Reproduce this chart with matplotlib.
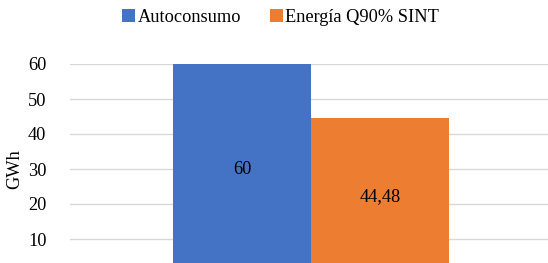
import matplotlib.pyplot as plt

series = ["Autoconsumo", "Energía Q90% SINT"]
values = [60, 44.48]
labels = ["60", "44,48"]
colors = ["#4472C4", "#ED7D31"]

plt.rcParams['font.family'] = ['Liberation Serif', 'DejaVu Serif']
fs = 13.2

fig = plt.figure(figsize=(5.48, 2.63), dpi=100)
# axes bottom sits below the figure edge (the original is cropped)
ax = fig.add_axes([70 / 548, -11 / 263, 482 / 548, 210 / 263])

w = 0.2863
offsets = [-w / 2, w / 2]
for name, v, lab, c, off in zip(series, values, labels, colors, offsets):
    ax.bar(off, v, width=w, color=c, label=name, zorder=2)
    ax.text(off, v / 2, lab, ha="center", va="center", fontsize=fs, color="#000000", zorder=3)

ax.set_xlim(-0.5, 0.5)
ax.set_ylim(0, 60)
ax.set_yticks([10, 20, 30, 40, 50, 60])
ax.set_xticks([])
ax.tick_params(axis="y", length=0, labelsize=fs, pad=17)
ax.grid(axis="y", color="#D9D9D9", linewidth=1, zorder=0)
for s in ax.spines.values():
    s.set_visible(False)

ax.set_ylabel("GWh", fontsize=fs)
ax.yaxis.set_label_coords(-0.096, 0.5)

fig.legend(loc="upper center", bbox_to_anchor=(0.512, 1.03), ncol=2, frameon=False,
           fontsize=fs, handlelength=0.7, handleheight=0.7, handletextpad=0.15,
           columnspacing=1.57)

fig.savefig("out.png", dpi=100)
